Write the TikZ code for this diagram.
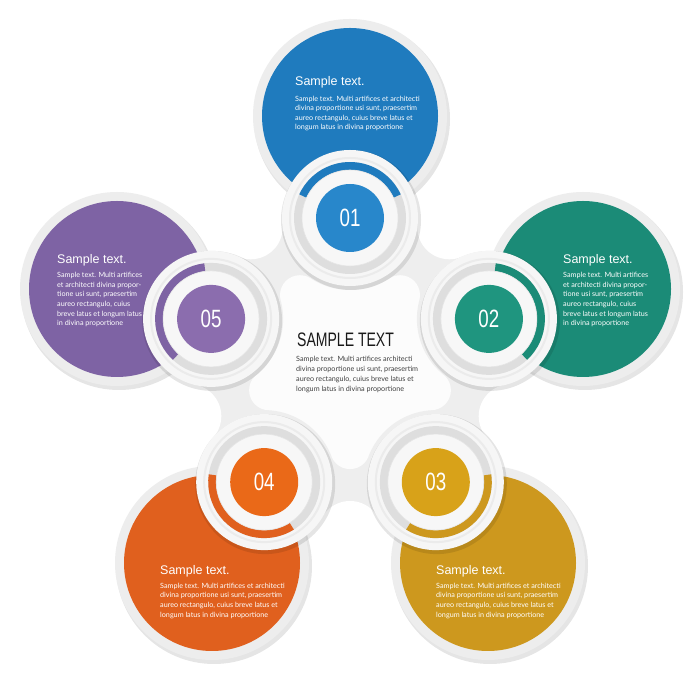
\documentclass[tikz,border=0pt]{standalone}
\usepackage{fontspec}
\usepackage{graphicx}
\setmainfont{Liberation Sans}
\newfontfamily\parafont{Lato}
\usetikzlibrary{calc}
\definecolor{bluebig}{HTML}{1F7BBE}
\definecolor{bluesm}{HTML}{2887CB}
\definecolor{tealbig}{HTML}{1B8B77}
\definecolor{tealsm}{HTML}{1F957F}
\definecolor{goldbig}{HTML}{CD981E}
\definecolor{goldsm}{HTML}{D8A219}
\definecolor{orangebig}{HTML}{E0601E}
\definecolor{orangesm}{HTML}{EA6918}
\definecolor{purplebig}{HTML}{7E63A4}
\definecolor{purplesm}{HTML}{8B6DAE}
\definecolor{ringgray}{HTML}{EDEDED}
\definecolor{blobgray}{HTML}{EEEEEE}
\definecolor{lobewhite}{HTML}{F6F6F6}
\definecolor{bandgray}{HTML}{DEDEDE}
\definecolor{plate}{HTML}{FCFCFC}

\begin{document}
\begin{tikzpicture}[x=1pt,y=1pt,
  head/.style={anchor=base west,inner sep=0pt,text=white,font=\fontsize{12.5}{14}\selectfont},
  para/.style={anchor=north west,inner sep=0pt,align=left,text=white,font=\parafont\fontsize{7.2}{9.6}\selectfont},
  num/.style={inner sep=0pt,text=white,font=\fontsize{25}{25}\selectfont},
  shade/.style={fill=black,opacity=.1},
  lobe/.style={fill=lobewhite},
  disc/.style={fill=white!97!black,draw=black!10,line width=.6pt}]

  \useasboundingbox (0,0) rectangle (700,700);
  \fill[white] (0,0) rectangle (700,700);

  % centre, lobes, big circles
  \coordinate (c) at (350,336);
  \coordinate (l1) at (350,482);
  \coordinate (l2) at (488.9,381.1);
  \coordinate (l3) at (435.8,217.9);
  \coordinate (l4) at (264.2,217.9);
  \coordinate (l5) at (211.1,381.1);
  \coordinate (b1) at (350,584);
  \coordinate (b2) at (583,411);
  \coordinate (b3) at (488,137);
  \coordinate (b4) at (212,137);
  \coordinate (b5) at (117,411);
  % fillets of the outer shape
  \coordinate (f12) at (449.3,472.7);
  \coordinate (f23) at (510.7,283.8);
  \coordinate (f34) at (350,167);
  \coordinate (f45) at (189.3,283.8);
  \coordinate (f51) at (250.7,472.7);
  % round tips of the inner plate
  \coordinate (k12) at (400.1,404.9);
  \coordinate (k23) at (431.0,309.7);
  \coordinate (k34) at (350,250.8);
  \coordinate (k45) at (269.0,309.7);
  \coordinate (k51) at (299.9,404.9);

  % big circles with their rings
  \fill[shade] ($(b1)+(2,-3)$) circle (98pt);
  \fill[ringgray] (b1) circle (97pt);
  \fill[bluebig] (b1) circle (88pt);
  \fill[shade] ($(b2)+(2,-3)$) circle (98pt);
  \fill[ringgray] (b2) circle (97pt);
  \fill[tealbig] (b2) circle (88pt);
  \fill[shade] ($(b3)+(2,-3)$) circle (98pt);
  \fill[ringgray] (b3) circle (97pt);
  \fill[goldbig] (b3) circle (88pt);
  \fill[shade] ($(b4)+(2,-3)$) circle (98pt);
  \fill[ringgray] (b4) circle (97pt);
  \fill[orangebig] (b4) circle (88pt);
  \fill[shade] ($(b5)+(2,-3)$) circle (98pt);
  \fill[ringgray] (b5) circle (97pt);
  \fill[purplebig] (b5) circle (88pt);

  % outer shape: star, then the concave fillets cut out
  \fill[blobgray] (l1) -- (f12) -- (l2) -- (f23) -- (l3) -- (f34) -- (l4) -- (f45) -- (l5) -- (f51) -- cycle;
  \fill[white] (f12) circle (32pt);
  \fill[white] (f23) circle (32pt);
  \fill[white] (f34) circle (32pt);
  \fill[white] (f45) circle (32pt);
  \fill[white] (f51) circle (32pt);

  % inner plate
  \fill[plate] (k51) -- (l1) -- (k12) -- (l2) -- (k23) -- (l3) -- (k34) -- (l4) -- (k45) -- (l5) -- cycle;
  \fill[plate] (k12) circle (19.9pt);
  \fill[plate] (k23) circle (19.9pt);
  \fill[plate] (k34) circle (19.9pt);
  \fill[plate] (k45) circle (19.9pt);
  \fill[plate] (k51) circle (19.9pt);
  \begin{scope}
    \clip (k51) -- (l1) -- (k12) -- (l2) -- (k23) -- (l3) -- (k34) -- (l4) -- (k45) -- (l5) -- cycle;
    \fill[blobgray] (l1) circle (72pt);
    \fill[blobgray] (l2) circle (72pt);
    \fill[blobgray] (l3) circle (72pt);
    \fill[blobgray] (l4) circle (72pt);
    \fill[blobgray] (l5) circle (72pt);
  \end{scope}

  % lobe 01
  \fill[shade] ($(l1)+(1,-2)$) circle (70pt);
  \fill[lobe] (l1) circle (68pt);
  \draw[black!8,line width=2pt] (l1) circle (60pt);
  \fill[bandgray] (l1) circle (56pt);
  \fill[bluebig] ($(l1)+(25:56pt)$) arc[start angle=25,end angle=155,radius=56pt]
    -- ($(l1)+(155:48pt)$) arc[start angle=155,end angle=25,radius=48pt] -- cycle;
  \fill[disc] (l1) circle (48pt);
  \fill[bluesm] (l1) circle (34pt);
  \node[num] (n1) at (l1) {\scalebox{.75}[1]{01}};

  % lobe 02
  \fill[shade] ($(l2)+(1,-2)$) circle (70pt);
  \fill[lobe] (l2) circle (68pt);
  \draw[black!8,line width=2pt] (l2) circle (60pt);
  \fill[bandgray] (l2) circle (56pt);
  \fill[tealbig] ($(l2)+(-47:56pt)$) arc[start angle=-47,end angle=83,radius=56pt]
    -- ($(l2)+(83:48pt)$) arc[start angle=83,end angle=-47,radius=48pt] -- cycle;
  \fill[disc] (l2) circle (48pt);
  \fill[tealsm] (l2) circle (34pt);
  \node[num] (n2) at (l2) {\scalebox{.75}[1]{02}};

  % lobe 03
  \fill[shade] ($(l3)+(1,-2)$) circle (70pt);
  \fill[lobe] (l3) circle (68pt);
  \draw[black!8,line width=2pt] (l3) circle (60pt);
  \fill[bandgray] (l3) circle (56pt);
  \fill[goldbig] ($(l3)+(-122:56pt)$) arc[start angle=-122,end angle=8,radius=56pt]
    -- ($(l3)+(8:48pt)$) arc[start angle=8,end angle=-122,radius=48pt] -- cycle;
  \fill[disc] (l3) circle (48pt);
  \fill[goldsm] (l3) circle (34pt);
  \node[num] (n3) at (l3) {\scalebox{.75}[1]{03}};

  % lobe 04
  \fill[shade] ($(l4)+(1,-2)$) circle (70pt);
  \fill[lobe] (l4) circle (68pt);
  \draw[black!8,line width=2pt] (l4) circle (60pt);
  \fill[bandgray] (l4) circle (56pt);
  \fill[orangebig] ($(l4)+(-188:56pt)$) arc[start angle=-188,end angle=-58,radius=56pt]
    -- ($(l4)+(-58:48pt)$) arc[start angle=-58,end angle=-188,radius=48pt] -- cycle;
  \fill[disc] (l4) circle (48pt);
  \fill[orangesm] (l4) circle (34pt);
  \node[num] (n4) at (l4) {\scalebox{.75}[1]{04}};

  % lobe 05
  \fill[shade] ($(l5)+(1,-2)$) circle (70pt);
  \fill[lobe] (l5) circle (68pt);
  \draw[black!8,line width=2pt] (l5) circle (60pt);
  \fill[bandgray] (l5) circle (56pt);
  \fill[purplebig] ($(l5)+(97:56pt)$) arc[start angle=97,end angle=227,radius=56pt]
    -- ($(l5)+(227:48pt)$) arc[start angle=227,end angle=97,radius=48pt] -- cycle;
  \fill[disc] (l5) circle (48pt);
  \fill[purplesm] (l5) circle (34pt);
  \node[num] (n5) at (l5) {\scalebox{.75}[1]{05}};

  % texts in the big circles
  \node[head] (h1) at (295,614) {Sample text.};
  \node[para] (p1) at (295,604.3) {Sample text. Multi artifices et architecti\\divina proportione usi sunt, praesertim\\aureo rectangulo, cuius breve latus et\\longum latus in divina proportione};
  \node[head] (h2) at (563,436.5) {Sample text.};
  \node[para] (p2) at (563,427.8) {Sample text. Multi artifices\\et architecti divina propor-\\tione usi sunt, praesertim\\aureo rectangulo, cuius\\breve latus et longum latus\\in divina proportione};
  \node[head] (h3) at (436,125) {Sample text.};
  \node[para] (p3) at (436,117.3) {Sample text. Multi artifices et architecti\\divina proportione usi sunt, praesertim\\aureo rectangulo, cuius breve latus et\\longum latus in divina proportione};
  \node[head] (h4) at (160,125) {Sample text.};
  \node[para] (p4) at (160,117.3) {Sample text. Multi artifices et architecti\\divina proportione usi sunt, praesertim\\aureo rectangulo, cuius breve latus et\\longum latus in divina proportione};
  \node[head] (h5) at (57,436) {Sample text.};
  \node[para] (p5) at (57,427.8) {Sample text. Multi artifices\\et architecti divina propor-\\tione usi sunt, praesertim\\aureo rectangulo, cuius\\breve latus et longum latus\\in divina proportione};

  % centre text
  \node[anchor=base west,inner sep=0pt,text=black!90,font=\fontsize{19.5}{20}\selectfont] (title) at (297,353) {\scalebox{.72}[1]{SAMPLE TEXT}};
  \node[para,text=black!75,font=\parafont\fontsize{7.2}{9.9}\selectfont] (body) at (296,343.8) {Sample text. Multi artifices architecti\\divina proportione usi sunt, praesertim\\aureo rectangulo, cuius breve latus et\\longum latus in divina proportione};
\end{tikzpicture}
\end{document}
